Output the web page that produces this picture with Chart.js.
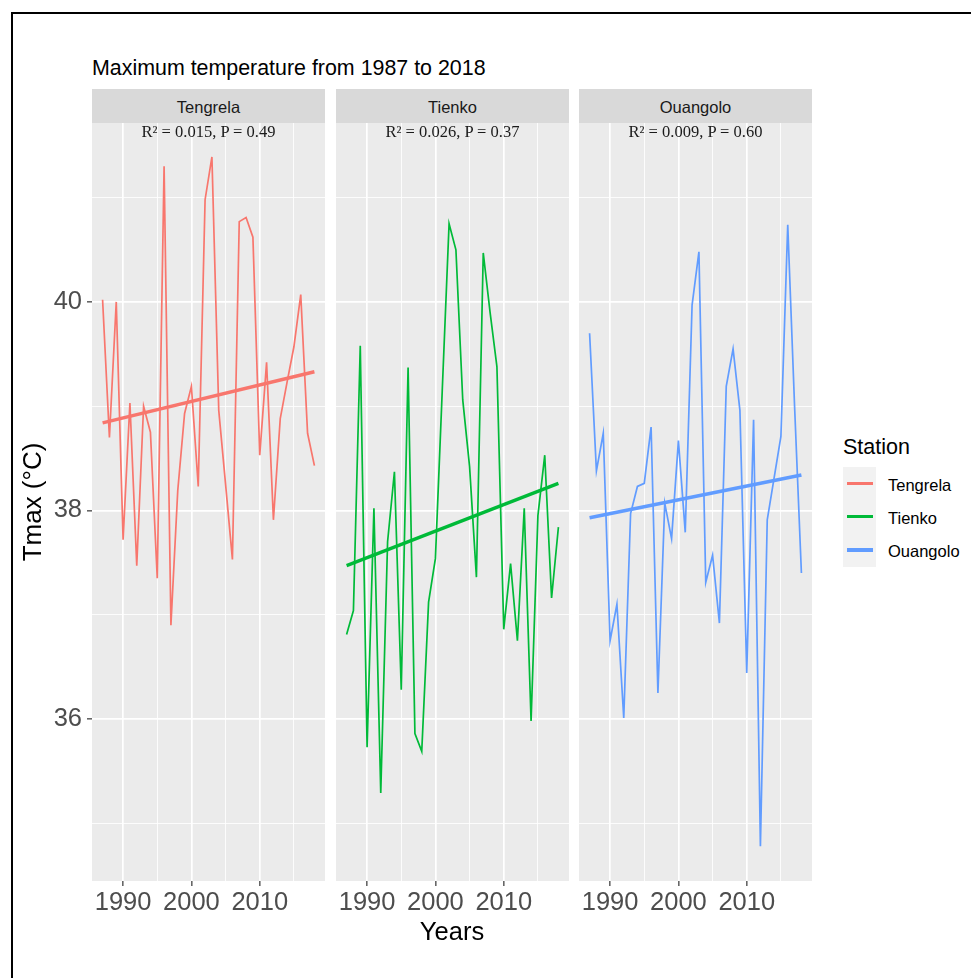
<!DOCTYPE html>
<html><head><meta charset="utf-8">
<script src="https://cdn.jsdelivr.net/npm/chart.js@4.4.1/dist/chart.umd.min.js"></script>
<style>
html,body{margin:0;padding:0;background:#fff;}
#wrap{position:relative;width:971px;height:978px;overflow:hidden;background:#fff;font-family:"Liberation Sans",Arial,sans-serif;}
.frame{position:absolute;left:11px;top:12px;width:1100px;height:1100px;border-left:2px solid #000;border-top:2px solid #000;}
canvas{position:absolute;}
.t{position:absolute;white-space:nowrap;line-height:1;}
.strip{position:absolute;top:89px;height:34px;background:#D9D9D9;}
.stripText{position:absolute;top:99.3px;font-size:16.5px;color:#1A1A1A;text-align:center;line-height:1;white-space:nowrap;}
.stat{position:absolute;top:123.5px;font-family:"Liberation Serif","Times New Roman",serif;font-size:16.5px;color:#1A1A1A;text-align:center;line-height:1;white-space:nowrap;}
</style></head>
<body>
<div id="wrap">
  <div class="frame"></div>
  <div class="t" style="left:92px;top:57.6px;font-size:21.4px;color:#000;">Maximum temperature from 1987 to 2018</div>
  <canvas id="c0" width="325" height="808" style="left:0px;top:123px;width:325px;height:808px;"></canvas>
  <canvas id="c1" width="233" height="808" style="left:336px;top:123px;width:233px;height:808px;"></canvas>
  <canvas id="c2" width="233" height="808" style="left:579px;top:123px;width:233px;height:808px;"></canvas>
  <div id="overlay"></div>
  <div class="t" style="left:352px;width:200px;text-align:center;top:919.1px;font-size:25.5px;color:#000;">Years</div>
  <div class="t" style="left:-68.3px;top:488.7px;width:200px;height:26px;text-align:center;font-size:26px;color:#000;transform:rotate(-90deg);">Tmax (°C)</div>
  <div class="t" style="left:843px;top:436.8px;font-size:21.5px;color:#000;">Station</div>
  <div id="legend"></div>
</div>
<script>
// ---- data ----
const years = [1987,1988,1989,1990,1991,1992,1993,1994,1995,1996,1997,1998,1999,2000,2001,2002,
               2003,2004,2005,2006,2007,2008,2009,2010,2011,2012,2013,2014,2015,2016,2017,2018];
const tengrela = [40.02,38.70,40.00,37.72,39.03,37.47,39.00,38.75,37.35,41.30,36.90,38.19,38.93,39.19,38.23,40.98,
                  41.39,38.96,38.25,37.53,40.77,40.81,40.62,38.53,39.42,37.91,38.88,39.23,39.57,40.07,38.74,38.43];
const tienko = [36.81,37.04,39.58,35.73,38.02,35.29,37.70,38.37,36.28,39.37,35.86,35.69,37.12,37.54,39.15,40.75,
                40.50,39.06,38.42,37.36,40.47,39.90,39.38,36.86,37.49,36.75,38.02,35.98,37.95,38.53,37.16,37.84];
const ouangolo = [39.70,38.38,38.74,36.75,37.10,36.01,37.97,38.23,38.26,38.80,36.25,38.07,37.73,38.67,37.79,39.97,
                  40.48,37.31,37.57,36.92,39.19,39.55,38.96,36.44,38.87,34.78,37.91,38.31,38.71,40.74,39.00,37.40];
const trendYears = [1987, 2018];
const trendTengrela = [38.84, 39.33];
const trendTienko = [37.47, 38.26];
const trendOuangolo = [37.93, 38.34];
const stations = ['Tengrela','Tienko','Ouangolo'];
const stationColors = ['#F8766D','#00BA38','#619CFF'];
const statLabels = ['R\u00B2 = 0.015, P = 0.49','R\u00B2 = 0.026, P = 0.37','R\u00B2 = 0.009, P = 0.60'];
const xGridValues = [1990,1995,2000,2005,2010,2015];
const xTickLabels = [1990,2000,2010];
const yGridValues = [35,36,37,38,39,40,41];
const yTickLabels = [36,38,40];
const xMin = 1985.45, xMax = 2019.55, yMin = 34.446, yMax = 41.716;

const seriesList = [tengrela, tienko, ouangolo];
const trendList = [trendTengrela, trendTienko, trendOuangolo];
const panels = [{left:92,width:233},{left:336,width:233},{left:579,width:233}];

const FONT = '"Liberation Sans", Arial, sans-serif';

const panelBg = {
  id:'panelBg',
  beforeDraw(chart){
    const {ctx, chartArea:a} = chart;
    ctx.save(); ctx.fillStyle = '#EBEBEB';
    ctx.fillRect(a.left, a.top, a.right - a.left, a.bottom - a.top);
    ctx.restore();
  }
};

function zeroPad(s){ s.paddingLeft = 0; s.paddingRight = 0; s.paddingTop = 0; s.paddingBottom = 0; }

function makeChart(idx){
  const showY = idx === 0;
  const color = stationColors[idx];
  const series = seriesList[idx];
  const trend = trendList[idx];
  new Chart(document.getElementById('c' + idx), {
    type: 'line',
    data: {
      datasets: [
        { label: stations[idx] + ' trend', data: trendYears.map((x,i)=>({x, y: trend[i]})),
          borderColor: color, borderWidth: 3.4, pointRadius: 0, tension: 0, fill: false },
        { label: stations[idx], data: years.map((x,i)=>({x, y: series[i]})),
          borderColor: color, borderWidth: 1.7, pointRadius: 0, tension: 0, fill: false }
      ]
    },
    options: {
      responsive: false, animation: false, devicePixelRatio: 1,
      layout: { padding: 0 },
      plugins: { legend: { display: false }, tooltip: { enabled: false }, title: { display: false } },
      scales: {
        x: {
          type: 'linear', min: xMin, max: xMax, bounds: 'data',
          afterBuildTicks: s => { s.ticks = xGridValues.map(v => ({ value: v })); },
          afterFit: s => { s.height = 50; zeroPad(s); },
          ticks: {
            autoSkip: false, maxRotation: 0, minRotation: 0, padding: 2,
            font: { family: FONT, size: 25.5 }, color: '#4D4D4D',
            callback: v => xTickLabels.includes(v) ? String(v) : ''
          },
          grid: {
            color: '#FFFFFF',
            lineWidth: c => (c.tick && xTickLabels.includes(c.tick.value)) ? 1.7 : 0.85,
            drawTicks: true, tickLength: 5, tickWidth: 1.2,
            tickColor: c => (c.tick && xTickLabels.includes(c.tick.value)) ? '#333333' : 'rgba(0,0,0,0)'
          },
          border: { display: false }
        },
        y: {
          type: 'linear', min: yMin, max: yMax, bounds: 'data',
          afterBuildTicks: s => { s.ticks = yGridValues.map(v => ({ value: v })); },
          afterFit: s => { s.width = showY ? 92 : 0; zeroPad(s); },
          ticks: {
            display: showY, autoSkip: false, padding: 5,
            font: { family: FONT, size: 25.5 }, color: '#4D4D4D',
            callback: v => yTickLabels.includes(v) ? String(v) : ''
          },
          grid: {
            color: '#FFFFFF',
            lineWidth: c => (c.tick && yTickLabels.includes(c.tick.value)) ? 1.7 : 0.85,
            drawTicks: showY, tickLength: 5, tickWidth: 1.2,
            tickColor: c => (c.tick && yTickLabels.includes(c.tick.value)) ? '#333333' : 'rgba(0,0,0,0)'
          },
          border: { display: false }
        }
      }
    },
    plugins: [panelBg]
  });
}

// strips and stats annotations
const overlay = document.getElementById('overlay');
panels.forEach((p, i) => {
  const s = document.createElement('div');
  s.className = 'strip'; s.style.left = p.left + 'px'; s.style.width = p.width + 'px';
  overlay.appendChild(s);
  const st = document.createElement('div');
  st.className = 'stripText'; st.style.left = p.left + 'px'; st.style.width = p.width + 'px';
  st.textContent = stations[i];
  overlay.appendChild(st);
});

for (let i = 0; i < 3; i++) makeChart(i);

panels.forEach((p, i) => {
  const a = document.createElement('div');
  a.className = 'stat'; a.style.left = p.left + 'px'; a.style.width = p.width + 'px';
  a.textContent = statLabels[i];
  document.getElementById('wrap').appendChild(a);
});

// legend
const lg = document.getElementById('legend');
const box = document.createElement('div');
box.style.cssText = 'position:absolute;left:843px;top:467px;width:33px;height:100px;background:#F2F2F2;';
lg.appendChild(box);
stations.forEach((name, i) => {
  const cy = 483.3 + i * 33.35;
  const ln = document.createElement('div');
  ln.style.cssText = 'position:absolute;left:847px;width:26px;height:3.5px;top:' + (cy - 1.75) + 'px;background:' + stationColors[i] + ';';
  lg.appendChild(ln);
  const tx = document.createElement('div');
  tx.className = 't';
  tx.style.cssText += 'left:888px;font-size:16.5px;color:#000;top:' + (cy + 7.4 - 14) + 'px;';
  tx.textContent = name;
  lg.appendChild(tx);
});
</script>
</body></html>
